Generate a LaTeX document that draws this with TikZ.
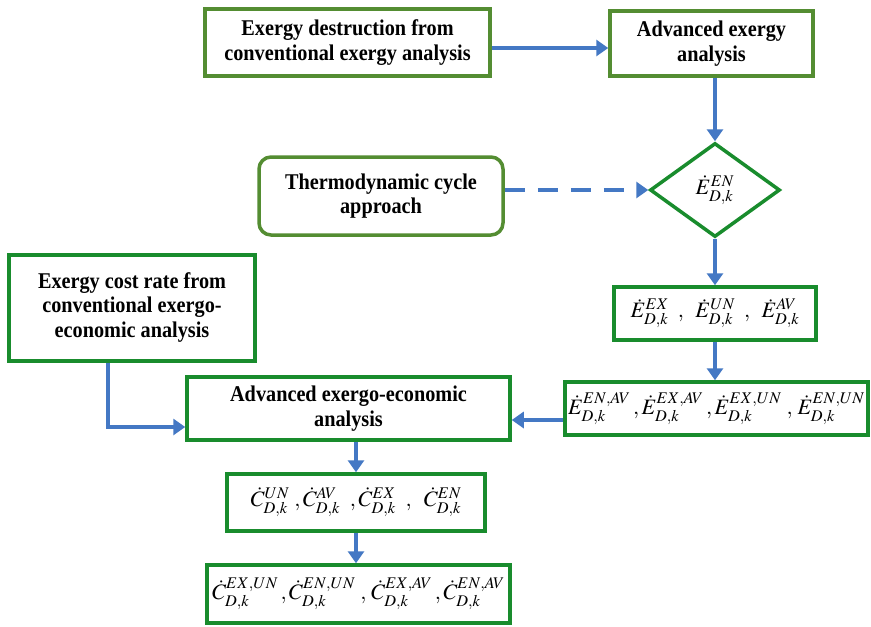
\documentclass[tikz,border=0pt]{standalone}
\usepackage{mathptmx}
\usepackage[no-math]{fontspec}
\setmainfont{Liberation Serif}[FakeStretch=0.9]
\usetikzlibrary{shapes.geometric,arrows.meta,calc}
\definecolor{olivegr}{RGB}{84,141,50}
\definecolor{boxgr}{RGB}{25,140,45}
\definecolor{arrblue}{RGB}{68,120,196}
\begin{document}
\begin{tikzpicture}[x=1pt,y=-1pt,
  txt/.style={font=\fontsize{22.5}{24.5}\selectfont\bfseries, align=center},
  mth/.style={font=\fontsize{22}{26}\selectfont},
  obox/.style={draw=olivegr, line width=3.5pt, fill=white, inner sep=0pt, txt},
  gbox/.style={draw=boxgr, line width=3.5pt, fill=white, inner sep=0pt},
  arr/.style={draw=arrblue, line width=4.6pt, -{Triangle[length=12pt,width=16pt]}},
]
\useasboundingbox[fill=white] (0,0) rectangle (871,627);

\node[obox, minimum width=285pt, minimum height=67pt] (b1) at (347.5,42.5)
  {Exergy destruction from\\conventional exergy analysis};
\node[obox, minimum width=203pt, minimum height=65pt] (b2) at (711.5,43.5)
  {Advanced exergy\\analysis};
\node[obox, rounded corners=12pt, minimum width=244pt, minimum height=78pt] (thermo) at (381,196)
  {Thermodynamic cycle\\approach};
\node[gbox, diamond, minimum width=130pt, minimum height=94pt, mth] (dia) at (715,190)
  {$\dot{E}^{EN}_{D,k}$};
\node[gbox, minimum width=202pt, minimum height=53pt, mth] (ebox) at (715,313.5)
  {$\dot{E}^{EX}_{D,k}\hspace{9pt},\hspace{9pt} \dot{E}^{UN}_{D,k}\hspace{9pt},\hspace{9pt} \dot{E}^{AV}_{D,k}$};
\node[gbox, minimum width=303pt, minimum height=53pt, mth] (etwo) at (716.5,408.5)
  {$\dot{E}^{EN,AV}_{D,k}\,,\dot{E}^{EX,AV}_{D,k}\,,\dot{E}^{EX,UN}_{D,k}\;,\,\dot{E}^{EN,UN}_{D,k}$};
\node[gbox, txt, minimum width=246pt, minimum height=106pt] (cost) at (132,308)
  {\raisebox{6pt}{\begin{tabular}{@{}c@{}}Exergy cost rate from\\conventional exergo-\\economic analysis\end{tabular}}};
\node[gbox, txt, minimum width=323pt, minimum height=63pt] (aee) at (348.5,408.5)
  {Advanced exergo-economic\\analysis};
\node[gbox, minimum width=258pt, minimum height=57pt, mth] (cone) at (356,502.5)
  {$\dot{C}^{UN}_{D,k}\;,\dot{C}^{AV}_{D,k}\;\;,\dot{C}^{EX}_{D,k}\;\;,\;\;\dot{C}^{EN}_{D,k}$};
\node[gbox, minimum width=303pt, minimum height=58pt, mth] (ctwo) at (358.5,594)
  {$\dot{C}^{EX,UN}_{D,k}\,,\dot{C}^{EN,UN}_{D,k}\;,\,\dot{C}^{EX,AV}_{D,k}\,,\dot{C}^{EN,AV}_{D,k}$};

\draw[arr] ([yshift=-5.5pt]b1.east) -- ([yshift=-4.5pt]b2.west);
\draw[arr] (b2.south -| dia.north) -- (dia.north);
\draw[arr, dash pattern=on 20pt off 13pt] (thermo.east |- dia.west) -- (dia.west);
\draw[arr] (dia.south) -- (ebox.north);
\draw[arr] (ebox.south) -- (ebox.south |- etwo.north);
\draw[arr] ([yshift=-11.5pt]etwo.west) -- ([yshift=-11.5pt]aee.east);
\draw[arr] ([xshift=-24pt]cost.south) |- ([yshift=-18.5pt]aee.west);
\draw[arr] (cone.north |- aee.south) -- (cone.north);
\draw[arr] (cone.south) -- (cone.south |- ctwo.north);
\end{tikzpicture}
\end{document}
